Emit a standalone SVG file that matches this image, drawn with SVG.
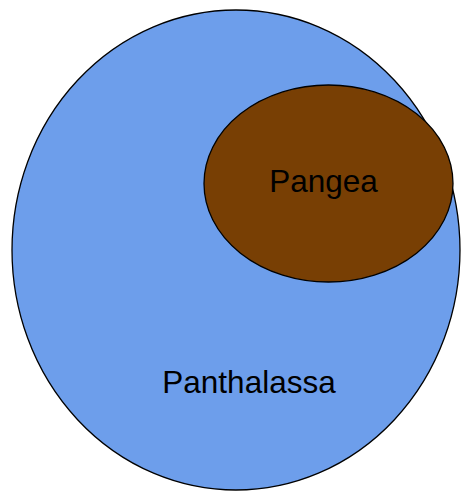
<svg xmlns="http://www.w3.org/2000/svg" width="462" height="491" viewBox="0 0 462 491">
<style>
.shape{stroke:#000;stroke-width:1.3}
.lbl{font-family:"Liberation Sans",Arial,sans-serif;font-size:31.5px;fill:#000;text-anchor:middle}
</style>
<rect width="462" height="491" fill="#fff"/>
<g id="connectors"></g>
<g id="panthalassa">
<ellipse class="shape" cx="236" cy="250" rx="224" ry="240" fill="#6d9eeb"/>
<text class="lbl" x="249" y="393">Panthalassa</text>
</g>
<g id="pangea">
<ellipse class="shape" cx="328.5" cy="183.5" rx="124.5" ry="98.5" fill="#783f04"/>
<text class="lbl" x="323.5" y="192">Pangea</text>
</g>
</svg>
